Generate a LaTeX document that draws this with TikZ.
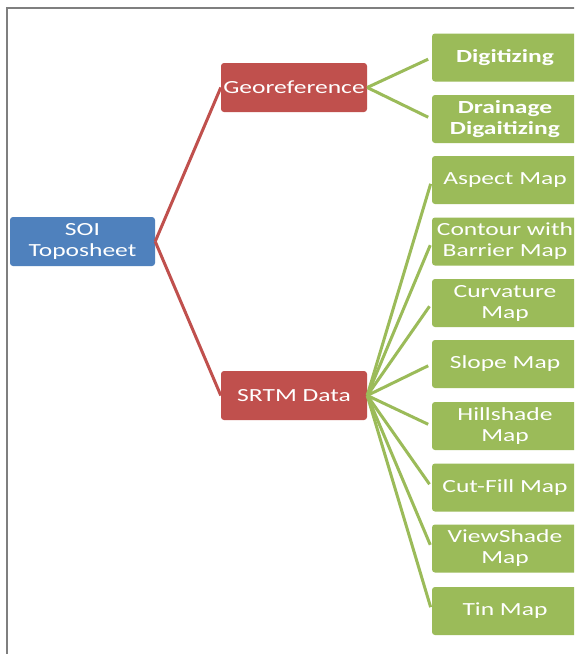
\documentclass[tikz,border=0pt]{standalone}
\usepackage{fontspec}
\setmainfont[FakeStretch=1.38]{Carlito}
\definecolor{offblue}{HTML}{4F81BD}
\definecolor{offred}{HTML}{C0504D}
\definecolor{offgreen}{HTML}{9BBB59}
\definecolor{framegray}{HTML}{7F7F7F}
\begin{document}
\begin{tikzpicture}[x=1pt,y=-1pt,
  box/.style={rounded corners=3pt, text=white, align=center,
    font=\fontsize{18.5}{21}\selectfont, inner sep=0pt,
    minimum height=49pt},
  bluebox/.style={box, fill=offblue, minimum width=145pt},
  redbox/.style={box, fill=offred, minimum width=146pt},
  greenbox/.style={box, fill=offgreen, minimum width=146pt, minimum height=48pt},
  boldtext/.style={font=\fontsize{18.5}{21}\selectfont\bfseries},
  redline/.style={draw=offred, line width=3pt},
  greenline/.style={draw=offgreen, line width=3pt, shorten >=4pt}]
\useasboundingbox (0,0) rectangle (574,654);
\clip (0,0) rectangle (574,654);
\fill[white] (0,0) rectangle (574,654);
\draw[framegray, line width=2pt] (6.5,660) -- (6.5,8) -- (580,8);

\node[bluebox] (soi) at (82.5,241.5) {SOI\\Toposheet};
\node[redbox] (geo) at (294,87.5) {Georeference};
\node[redbox] (srtm) at (294,395.5) {SRTM Data};

\node[greenbox, boldtext] (dig) at (505,57.5) {Digitizing};
\node[greenbox, boldtext] (drain) at (505,119) {Drainage\\Digaitizing};
\node[greenbox] (asp) at (505,180) {Aspect Map};
\node[greenbox] (cont) at (505,241.5) {Contour with\\Barrier Map};
\node[greenbox] (curv) at (505,303) {Curvature\\Map};
\node[greenbox] (slope) at (505,364) {Slope Map};
\node[greenbox] (hill) at (505,426) {Hillshade\\Map};
\node[greenbox] (cut) at (505,487.5) {Cut-Fill Map};
\node[greenbox] (view) at (505,548.5) {ViewShade\\Map};
\node[greenbox] (tin) at (505,611) {Tin Map};

\draw[redline] (soi.east) -- (geo.west);
\draw[redline] (soi.east) -- (srtm.west);

\foreach \t in {dig,drain}
  \draw[greenline] (geo.east) -- (\t.west);
\foreach \t in {asp,cont,curv,slope,hill,cut,view,tin}
  \draw[greenline] (srtm.east) -- (\t.west);
\end{tikzpicture}
\end{document}
